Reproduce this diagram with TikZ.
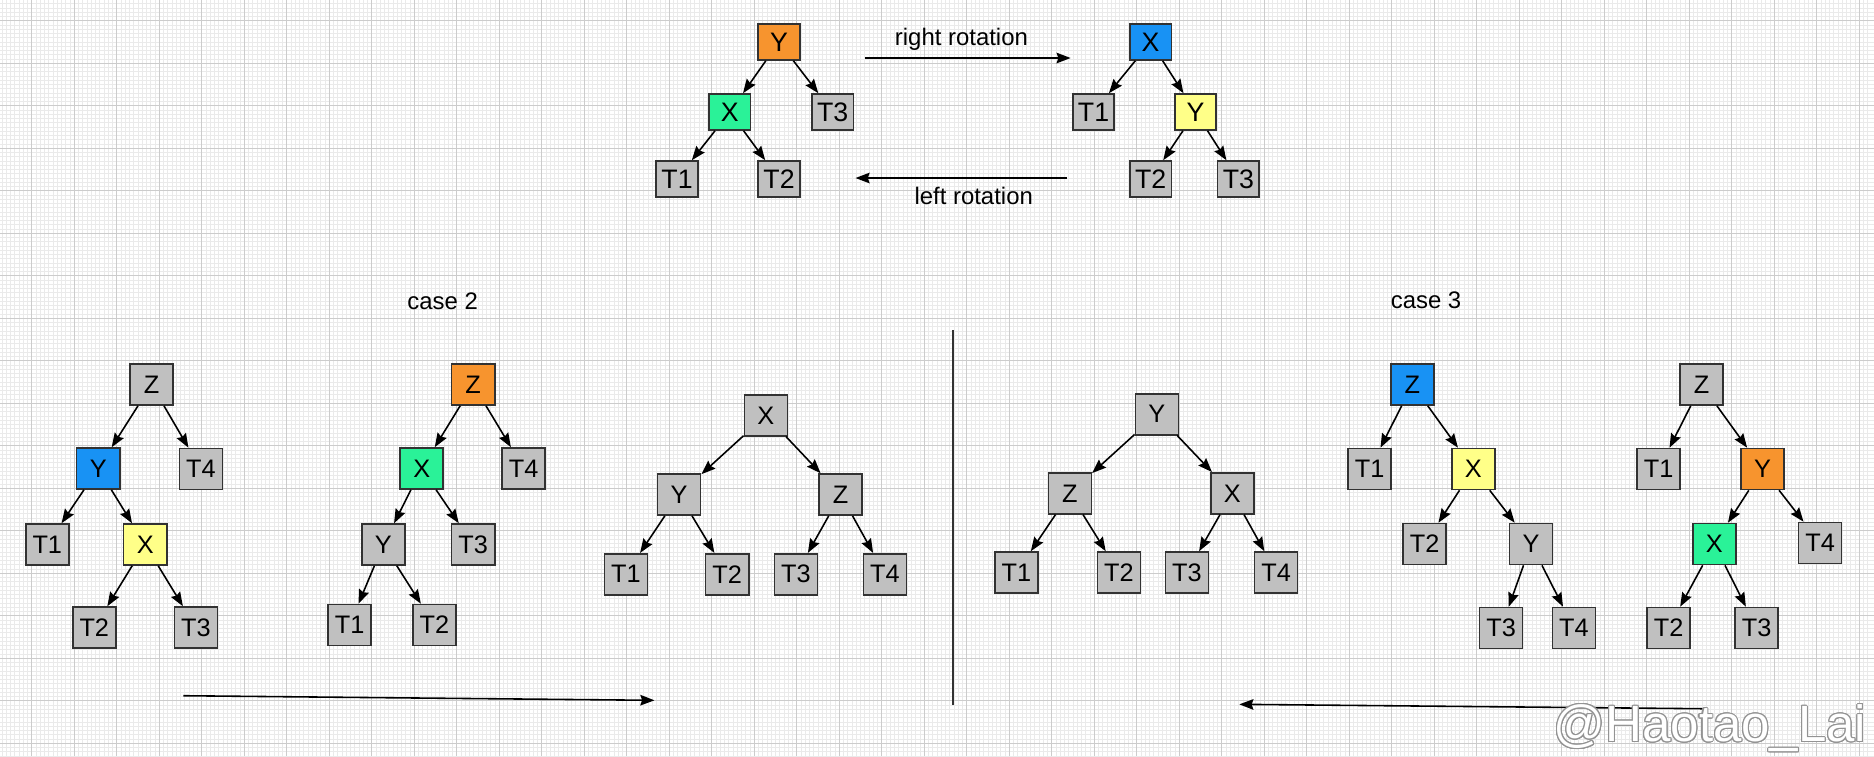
\documentclass[tikz,border=0pt]{standalone}
\usepackage{fontspec}
\setmainfont{Liberation Sans}
\usepackage[copies]{contour}
\usetikzlibrary{arrows.meta}
\definecolor{nodegray}{RGB}{192,192,192}
\definecolor{nodeorange}{RGB}{247,148,46}
\definecolor{nodegreen}{RGB}{42,242,152}
\definecolor{nodeblue}{RGB}{24,146,244}
\definecolor{nodeyellow}{RGB}{255,255,136}
\definecolor{boxline}{RGB}{50,50,50}
\definecolor{minorline}{RGB}{234,234,234}
\definecolor{majorline}{RGB}{204,204,204}
\tikzset{
  tree node/.style={rectangle,draw=boxline,line width=0.45pt,fill=nodegray,inner sep=0pt},
  small node/.style={tree node,minimum width=0.415cm,minimum height=0.36cm,font=\fontsize{7.6}{9}\selectfont},
  big node/.style={tree node,minimum width=0.43cm,minimum height=0.41cm,font=\fontsize{7.2}{9}\selectfont},
  tree edge/.style={-{Stealth[length=4pt,width=3pt,inset=0.5pt]},line width=0.45pt},
  label text/.style={font=\fontsize{6.8}{8}\selectfont,anchor=base},
  minor grid/.style={draw=minorline,line width=0.17pt},
  major grid/.style={draw=majorline,line width=0.28pt}
}
\begin{document}
\begin{tikzpicture}[x=0.01cm,y=-0.01cm]
\useasboundingbox (0,0) rectangle (1874,756);
\fill[white] (0,0) rectangle (1874,756);
% grid paper
\foreach \k in {-7,...,432} \draw[minor grid] ({31.7+4.25*\k},0) -- ({31.7+4.25*\k},756);
\foreach \k in {-4,...,173} \draw[minor grid] (0,{20.7+4.25*\k}) -- (1874,{20.7+4.25*\k});
\foreach \k in {0,...,43} \draw[major grid] ({31.7+42.5*\k},0) -- ({31.7+42.5*\k},756);
\foreach \k in {0,...,17} \draw[major grid] (0,{20.7+42.5*\k}) -- (1874,{20.7+42.5*\k});

% rotation, left tree
\node[small node,fill=nodeorange] (aY) at (779,42) {Y};
\node[small node,fill=nodegreen] (aX) at (729.8,112) {X};
\node[small node] (aT3) at (832.7,112) {T3};
\node[small node] (aT1) at (677,179) {T1};
\node[small node] (aT2) at (779,179) {T2};
\path[tree edge] (aY) edge (aX) edge (aT3);
\path[tree edge] (aX) edge (aT1) edge (aT2);

% rotation, right tree
\node[small node,fill=nodeblue] (bX) at (1150.6,42) {X};
\node[small node] (bT1) at (1093.5,112) {T1};
\node[small node,fill=nodeyellow] (bY) at (1195.5,112) {Y};
\node[small node] (bT2) at (1150.6,179) {T2};
\node[small node] (bT3) at (1238.4,179) {T3};
\path[tree edge] (bX) edge (bT1) edge (bY);
\path[tree edge] (bY) edge (bT2) edge (bT3);

\coordinate (rr1) at (865,58);
\coordinate (rr2) at (1070.6,58);
\coordinate (lr1) at (1066.5,178);
\coordinate (lr2) at (855.5,178);
\path[tree edge] (rr1) edge (rr2);
\path[tree edge] (lr1) edge (lr2);
\node[label text] (rrtext) at (961.4,45) {right rotation};
\node[label text] (lrtext) at (973.7,204) {left rotation};

% case 2
\node[label text] (case2) at (442.6,309.3) {case 2};
\node[big node] (cZ) at (151.5,384.5) {Z};
\node[big node,fill=nodeblue] (cY) at (98.2,468.5) {Y};
\node[big node] (cT4) at (200.9,469) {T4};
\node[big node] (cT1) at (47.3,544.5) {T1};
\node[big node,fill=nodeyellow] (cX) at (145.2,544.5) {X};
\node[big node] (cT2) at (94.3,627.5) {T2};
\node[big node] (cT3) at (195.9,627.5) {T3};
\path[tree edge] (cZ) edge (cY) edge (cT4);
\path[tree edge] (cY) edge (cT1) edge (cX);
\path[tree edge] (cX) edge (cT2) edge (cT3);

\node[big node,fill=nodeorange] (dZ) at (473.2,384.5) {Z};
\node[big node,fill=nodegreen] (dX) at (421.7,468.5) {X};
\node[big node] (dT4) at (523.7,468.5) {T4};
\node[big node] (dY) at (383.3,544.5) {Y};
\node[big node] (dT3) at (473.2,544.5) {T3};
\node[big node] (dT1) at (349.6,625) {T1};
\node[big node] (dT2) at (434.4,625) {T2};
\path[tree edge] (dZ) edge (dX) edge (dT4);
\path[tree edge] (dX) edge (dY) edge (dT3);
\path[tree edge] (dY) edge (dT1) edge (dT2);

\node[big node] (eX) at (765.9,415.3) {X};
\node[big node] (eY) at (679.1,494.5) {Y};
\node[big node] (eZ) at (840.7,494.5) {Z};
\node[big node] (eT1) at (625.8,574.2) {T1};
\node[big node] (eT2) at (727.2,574.2) {T2};
\node[big node] (eT3) at (795.9,574.2) {T3};
\node[big node] (eT4) at (884.9,574.2) {T4};
\path[tree edge] (eX) edge (eY) edge (eZ);
\path[tree edge] (eY) edge (eT1) edge (eT2);
\path[tree edge] (eZ) edge (eT3) edge (eT4);

\coordinate (c2a) at (183.3,695.7);
\coordinate (c2b) at (654.4,700.3);
\path[tree edge] (c2a) edge (c2b);

% divider
\coordinate (dv1) at (952.6,330);
\coordinate (dv2) at (952.6,705);
\draw[boxline,line width=0.5pt] (dv1) -- (dv2);

% case 3
\node[label text] (case3) at (1426,308.3) {case 3};
\node[big node] (fY) at (1156.9,414.2) {Y};
\node[big node] (fZ) at (1069.8,493.3) {Z};
\node[big node] (fX) at (1232.2,493.3) {X};
\node[big node] (fT1) at (1016.5,572.5) {T1};
\node[big node] (fT2) at (1118.9,572.5) {T2};
\node[big node] (fT3) at (1186.9,572.5) {T3};
\node[big node] (fT4) at (1276.1,572.5) {T4};
\path[tree edge] (fY) edge (fZ) edge (fX);
\path[tree edge] (fZ) edge (fT1) edge (fT2);
\path[tree edge] (fX) edge (fT3) edge (fT4);

\node[big node,fill=nodeblue] (gZ) at (1412.4,384.5) {Z};
\node[big node] (gT1) at (1369.7,469) {T1};
\node[big node,fill=nodeyellow] (gX) at (1473.3,469) {X};
\node[big node] (gT2) at (1424.6,544) {T2};
\node[big node] (gY) at (1531.1,544) {Y};
\node[big node] (gT3) at (1501.1,628) {T3};
\node[big node] (gT4) at (1573.8,628) {T4};
\path[tree edge] (gZ) edge (gT1) edge (gX);
\path[tree edge] (gX) edge (gT2) edge (gY);
\path[tree edge] (gY) edge (gT3) edge (gT4);

\node[big node] (hZ) at (1701.5,384.5) {Z};
\node[big node] (hT1) at (1658.7,469) {T1};
\node[big node,fill=nodeorange] (hY) at (1762.5,469) {Y};
\node[big node,fill=nodegreen] (hX) at (1714.2,544) {X};
\node[big node] (hT4) at (1820.1,543) {T4};
\node[big node] (hT2) at (1668.6,628) {T2};
\node[big node] (hT3) at (1756.6,628) {T3};
\path[tree edge] (hZ) edge (hT1) edge (hY);
\path[tree edge] (hY) edge (hX) edge (hT4);
\path[tree edge] (hX) edge (hT2) edge (hT3);

\coordinate (c3a) at (1702.7,708.7);
\coordinate (c3b) at (1239.3,704.3);
\path[tree edge] (c3a) edge (c3b);

% watermark
\contourlength{0.3pt}
\node[anchor=base west,inner sep=0pt,text=white,font=\fontsize{14.5}{16}\selectfont] (mark) at (1553,741.7) {\contour{gray!85}{@Haotao\_Lai}};
\end{tikzpicture}
\end{document}
